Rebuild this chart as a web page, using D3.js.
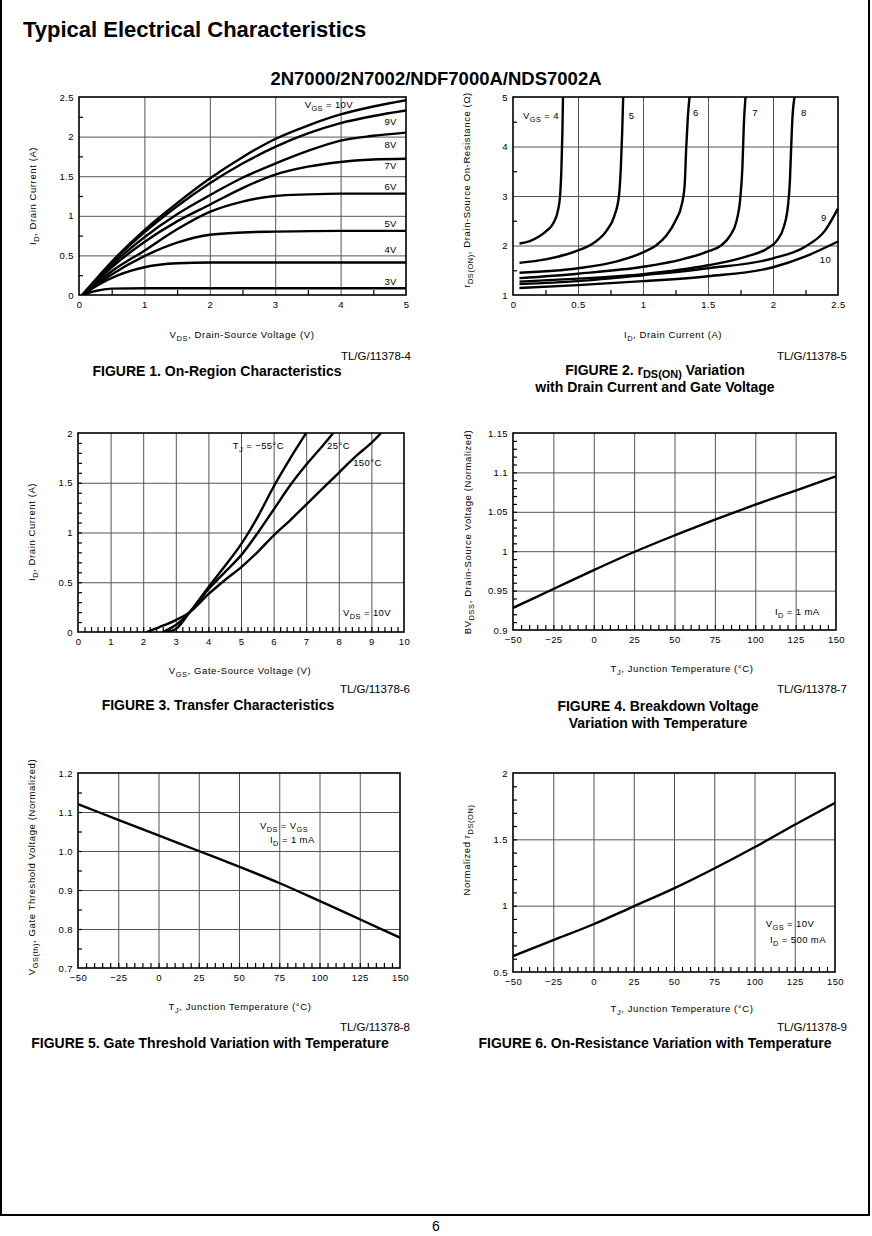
<!DOCTYPE html>
<html><head><meta charset="utf-8">
<script src="https://cdn.jsdelivr.net/npm/d3@7"></script>
<style>body{margin:0;background:#fff} svg{display:block}</style>
</head><body>
<svg id="c" width="872" height="1236"></svg>
<script>
// ---------------- DATA ----------------
// Figure 1: On-Region Characteristics  [VDS (V), ID (A)]
const f1Labels = ["V_{GS} = 10V","9V","8V","7V","6V","5V","4V","3V"];
const f1_10V = [[0.05,0],[0.5,0.42],[1,0.82],[1.5,1.16],[2,1.47],[2.5,1.74],[3,1.97],[3.5,2.14],[4,2.28],[4.5,2.38],[5,2.46]];
const f1_9V  = [[0.05,0],[0.5,0.41],[1,0.79],[1.5,1.12],[2,1.41],[2.5,1.66],[3,1.87],[3.5,2.04],[4,2.17],[4.5,2.26],[5,2.33]];
const f1_8V  = [[0.05,0],[0.5,0.38],[1,0.73],[1.5,1.02],[2,1.26],[2.5,1.48],[3,1.66],[3.5,1.82],[4,1.95],[4.5,2.01],[5,2.05]];
const f1_7V  = [[0.05,0],[0.5,0.35],[1,0.67],[1.5,0.93],[2,1.14],[2.5,1.35],[3,1.52],[3.5,1.62],[4,1.68],[4.5,1.71],[5,1.72]];
const f1_6V  = [[0.05,0],[0.5,0.3],[1,0.56],[1.5,0.83],[2,1.05],[2.5,1.18],[3,1.25],[3.5,1.27],[4,1.28],[5,1.28]];
const f1_5V  = [[0.05,0],[0.5,0.26],[1,0.49],[1.5,0.66],[2,0.76],[2.5,0.79],[3,0.80],[4,0.81],[5,0.81]];
const f1_4V  = [[0.05,0],[0.3,0.13],[0.6,0.25],[1,0.35],[1.5,0.40],[2,0.41],[5,0.41]];
const f1_3V  = [[0.05,0],[0.25,0.05],[0.5,0.08],[1,0.085],[5,0.085]];
const f1XTicks = [0,1,2,3,4,5];
const f1XTickLabels = ["0","1","2","3","4","5"];
const f1YTicks = [0,0.5,1,1.5,2,2.5];
const f1YTickLabels = ["0","0.5","1","1.5","2","2.5"];

// Figure 2: rDS(ON) vs ID  [ID (A), R (ohm)]
const f2Labels = ["V_{GS} = 4","5","6","7","8","9","10"];
const f2_4  = [[0.05,2.04],[0.13,2.09],[0.2,2.18],[0.26,2.3],[0.31,2.45],[0.345,2.7],[0.362,3.0],[0.373,3.6],[0.38,4.3],[0.385,5.05]];
const f2_5  = [[0.05,1.65],[0.25,1.72],[0.5,1.9],[0.62,2.05],[0.72,2.3],[0.78,2.6],[0.815,3.0],[0.83,3.6],[0.84,4.3],[0.848,5.05]];
const f2_6  = [[0.05,1.45],[0.5,1.54],[0.8,1.68],[1.0,1.86],[1.1,2.0],[1.18,2.2],[1.25,2.5],[1.3,2.85],[1.32,3.2],[1.333,4.0],[1.345,4.6],[1.36,5.05]];
const f2_7  = [[0.05,1.34],[0.5,1.43],[1.0,1.57],[1.3,1.72],[1.5,1.88],[1.6,2.0],[1.67,2.2],[1.72,2.5],[1.75,3.0],[1.765,3.6],[1.775,4.4],[1.79,5.05]];
const f2_8  = [[0.05,1.27],[0.5,1.33],[1.0,1.42],[1.5,1.6],[1.8,1.78],[1.95,1.93],[2.03,2.1],[2.08,2.35],[2.115,2.8],[2.13,3.3],[2.14,4.0],[2.15,4.6],[2.17,5.05]];
const f2_9  = [[0.05,1.22],[0.5,1.28],[1.0,1.4],[1.5,1.54],[2.0,1.74],[2.25,1.98],[2.4,2.3],[2.5,2.75]];
const f2_10 = [[0.05,1.14],[0.5,1.2],[1.0,1.28],[1.5,1.38],[2.0,1.56],[2.25,1.78],[2.5,2.08]];
const f2XTicks = [0,0.5,1,1.5,2,2.5];
const f2XTickLabels = ["0","0.5","1","1.5","2","2.5"];
const f2YTicks = [1,2,3,4,5];
const f2YTickLabels = ["1","2","3","4","5"];

// Figure 3: Transfer Characteristics  [VGS (V), ID (A)]
const f3Labels = ["T_{J} = −55°C","25°C","150°C","V_{DS} = 10V"];
const f3_m55 = [[2.7,0],[3.0,0.03],[3.43,0.2],[4.0,0.45],[4.5,0.66],[5.0,0.88],[5.5,1.15],[6.0,1.46],[6.5,1.74],[7.0,2.0]];
const f3_25  = [[2.6,0],[3.0,0.07],[3.43,0.2],[4.0,0.43],[4.5,0.6],[5.0,0.77],[5.5,0.99],[6.0,1.23],[6.5,1.47],[7.0,1.68],[7.5,1.87],[7.83,2.0]];
const f3_150 = [[2.1,0],[2.5,0.05],[3.0,0.12],[3.43,0.2],[4.0,0.38],[4.5,0.52],[5.0,0.65],[5.5,0.8],[6.0,0.97],[6.5,1.12],[7.0,1.28],[7.5,1.44],[8.0,1.6],[8.5,1.76],[9.0,1.9],[9.3,2.0]];
const f3XTicks = [0,1,2,3,4,5,6,7,8,9,10];
const f3XTickLabels = ["0","1","2","3","4","5","6","7","8","9","10"];
const f3YTicks = [0,0.5,1,1.5,2];
const f3YTickLabels = ["0","0.5","1","1.5","2"];

// Temperature axis shared by figures 4-6
const tempTicks = [-50,-25,0,25,50,75,100,125,150];
const tempTickLabels = ["−50","−25","0","25","50","75","100","125","150"];

// Figure 4: Breakdown voltage vs temperature  [TJ (°C), BVDSS norm]
const f4Labels = ["I_{D} = 1 mA"];
const f4_bv = [[-50,0.928],[-25,0.952],[0,0.976],[25,0.999],[50,1.02],[75,1.04],[100,1.059],[125,1.077],[150,1.095]];
const f4YTicks = [0.9,0.95,1,1.05,1.1,1.15];
const f4YTickLabels = ["0.9","0.95","1","1.05","1.1","1.15"];

// Figure 5: Gate threshold vs temperature
const f5Labels = ["V_{DS} = V_{GS}","I_{D} = 1 mA"];
const f5_vth = [[-50,1.12],[-25,1.08],[0,1.04],[25,1.0],[50,0.96],[75,0.918],[100,0.872],[125,0.825],[150,0.778]];
const f5YTicks = [0.7,0.8,0.9,1.0,1.1,1.2];
const f5YTickLabels = ["0.7","0.8","0.9","1.0","1.1","1.2"];

// Figure 6: On-resistance vs temperature
const f6Labels = ["V_{GS} = 10V","I_{D} = 500 mA"];
const f6_rds = [[-50,0.62],[-25,0.74],[0,0.86],[25,0.995],[50,1.13],[75,1.28],[100,1.44],[125,1.61],[150,1.775]];
const f6YTicks = [0.5,1,1.5,2];
const f6YTickLabels = ["0.5","1","1.5","2"];

// ---------------- DRAWING ----------------
const svg = d3.select("#c");
const SANS = "'Liberation Sans', Arial, Helvetica, sans-serif";
const PLOT = "'Liberation Sans', Arial, sans-serif";

function rich(sel, str, base, shiftK){
  const parts = str.split(/(_\{[^}]*\})/).filter(s => s.length);
  let shifted = false;
  const sh = base * (shiftK || 0.32);
  parts.forEach(p => {
    if (p.startsWith("_{")) {
      const t = sel.append("tspan").attr("font-size", base * 0.78).text(p.slice(2, -1));
      if (!shifted) { t.attr("dy", sh); shifted = true; }
    } else {
      const t = sel.append("tspan").text(p);
      if (shifted) { t.attr("dy", -sh); shifted = false; }
    }
  });
  return sel;
}

// frame
svg.append("line").attr("x1",1).attr("y1",0).attr("x2",1).attr("y2",1215).attr("stroke","#000").attr("stroke-width",2);
svg.append("line").attr("x1",869).attr("y1",0).attr("x2",869).attr("y2",1215).attr("stroke","#000").attr("stroke-width",2);
svg.append("line").attr("x1",0).attr("y1",1215).attr("x2",870).attr("y2",1215).attr("stroke","#000").attr("stroke-width",2);

svg.append("text").attr("x",23).attr("y",37).attr("font-family",SANS).attr("font-weight","bold").attr("font-size",22).text("Typical Electrical Characteristics");
svg.append("text").attr("x",436).attr("y",85).attr("text-anchor","middle").attr("font-family",SANS).attr("font-weight","bold").attr("font-size",18.5).text("2N7000/2N7002/NDF7000A/NDS7002A");
svg.append("text").attr("x",436).attr("y",1231).attr("text-anchor","middle").attr("font-family",SANS).attr("font-size",14).text("6");

let clipId = 0;
function chart(c){
  const g = svg.append("g");
  const x = d3.scaleLinear().domain(c.xd).range([c.l, c.r]);
  const y = d3.scaleLinear().domain(c.yd).range([c.b, c.t]);
  const H = c.b - c.t, W = c.r - c.l;

  // vertical grid
  g.append("g").attr("transform",`translate(0,${c.b})`)
    .call(d3.axisBottom(x).tickValues(c.xGrid).tickSize(-H).tickFormat(""))
    .call(s => { s.select(".domain").remove(); s.selectAll("line").attr("stroke","#555").attr("stroke-width",1); });
  // horizontal grid
  g.append("g").attr("transform",`translate(${c.l},0)`)
    .call(d3.axisLeft(y).tickValues(c.yGrid).tickSize(-W).tickFormat(""))
    .call(s => { s.select(".domain").remove(); s.selectAll("line").attr("stroke","#555").attr("stroke-width",1); });
  // minor ticks
  g.append("g").attr("transform",`translate(0,${c.b})`)
    .call(d3.axisBottom(x).tickValues(c.xMinor).tickSize(-5).tickFormat(""))
    .call(s => { s.select(".domain").remove(); s.selectAll("line").attr("stroke","#000").attr("stroke-width",1.2); });
  g.append("g").attr("transform",`translate(${c.l},0)`)
    .call(d3.axisLeft(y).tickValues(c.yMinor).tickSize(-4).tickFormat(""))
    .call(s => { s.select(".domain").remove(); s.selectAll("line").attr("stroke","#000").attr("stroke-width",1.2); });
  // tick labels
  g.append("g").attr("transform",`translate(0,${c.b})`)
    .call(d3.axisBottom(x).tickValues(c.xTicks).tickSize(0).tickPadding(6).tickFormat((d,i)=>c.xTickLabels[i]))
    .call(s => { s.select(".domain").remove(); s.selectAll("text").attr("font-family",PLOT).attr("font-size",9.5).attr("letter-spacing",0.4).attr("fill","#000"); });
  g.append("g").attr("transform",`translate(${c.l},0)`)
    .call(d3.axisLeft(y).tickValues(c.yTicks).tickSize(0).tickPadding(5).tickFormat((d,i)=>c.yTickLabels[i]))
    .call(s => { s.select(".domain").remove(); s.selectAll("text").attr("font-family",PLOT).attr("font-size",9.5).attr("letter-spacing",0.4).attr("fill","#000"); });

  // clip
  const id = "clip" + (clipId++);
  svg.append("clipPath").attr("id", id).append("rect").attr("x",c.l).attr("y",c.t).attr("width",W).attr("height",H);
  const line = d3.line().x(d => x(d[0])).y(d => y(d[1])).curve(d3.curveMonotoneX);
  g.append("g").attr("clip-path",`url(#${id})`).selectAll("path").data(c.series).join("path")
    .attr("d", line).attr("fill","none").attr("stroke","#000").attr("stroke-width",2.4).attr("stroke-linejoin","round");

  // frame
  g.append("rect").attr("x",c.l).attr("y",c.t).attr("width",W).attr("height",H)
    .attr("fill","none").attr("stroke","#000").attr("stroke-width",1.6);

  // annotations
  c.notes.forEach(n => {
    const t = g.append("text").attr("x", x(n.x)).attr("y", y(n.y)).attr("text-anchor", n.a || "start")
      .attr("font-family",PLOT).attr("font-size",9.5).attr("letter-spacing",0.4).attr("fill","#000");
    rich(t, n.text, 9.5);
  });

  // axis titles
  const xt = g.append("text").attr("x",c.xtX).attr("y",c.xtY).attr("text-anchor","middle")
    .attr("font-family",PLOT).attr("font-size",9.5).attr("letter-spacing",0.6);
  rich(xt, c.xTitle, 9.5);
  const yt = g.append("text").attr("transform",`translate(${c.ytX},${c.ytY}) rotate(-90)`).attr("text-anchor","middle")
    .attr("font-family",PLOT).attr("font-size",9.5).attr("letter-spacing",0.6);
  rich(yt, c.yTitle, 9.5);

  // reference number and caption
  g.append("text").attr("x",c.tlX).attr("y",c.tlY).attr("text-anchor","end").attr("font-family",SANS).attr("font-size",11.5).text(c.tl);
  c.caption.forEach((cap, i) => {
    const t = g.append("text").attr("x",c.capX).attr("y",c.capY + i*17).attr("text-anchor","middle")
      .attr("font-family",SANS).attr("font-weight","bold").attr("font-size",14);
    rich(t, cap, 14, 0.18);
  });
}

const range = (a,b,s) => d3.range(a, b + s/2, s);

chart({
  l:79, r:406, t:97, b:295, xd:[0,5], yd:[0,2.5],
  xGrid:[1,2,3,4], yGrid:[0.5,1,1.5,2], xMinor:range(0.5,4.5,1), yMinor:range(0.25,2.25,0.5),
  xTicks:f1XTicks, xTickLabels:f1XTickLabels, yTicks:f1YTicks, yTickLabels:f1YTickLabels,
  series:[f1_10V,f1_9V,f1_8V,f1_7V,f1_6V,f1_5V,f1_4V,f1_3V],
  notes:[
    {x:3.45,y:2.36,text:f1Labels[0]},
    {x:4.86,y:2.15,text:f1Labels[1],a:"end"},
    {x:4.86,y:1.86,text:f1Labels[2],a:"end"},
    {x:4.86,y:1.59,text:f1Labels[3],a:"end"},
    {x:4.86,y:1.33,text:f1Labels[4],a:"end"},
    {x:4.86,y:0.86,text:f1Labels[5],a:"end"},
    {x:4.86,y:0.53,text:f1Labels[6],a:"end"},
    {x:4.86,y:0.13,text:f1Labels[7],a:"end"}
  ],
  xTitle:"V_{DS}, Drain-Source Voltage (V)", xtX:242, xtY:338,
  yTitle:"I_{D}, Drain Current (A)", ytX:36, ytY:196,
  tl:"TL/G/11378-4", tlX:411, tlY:360,
  caption:["FIGURE 1. On-Region Characteristics"], capX:217, capY:376
});

chart({
  l:513, r:838, t:97, b:295, xd:[0,2.5], yd:[1,5],
  xGrid:[0.5,1,1.5,2], yGrid:[2,3,4], xMinor:range(0.25,2.25,0.5), yMinor:range(1.5,4.5,1),
  xTicks:f2XTicks, xTickLabels:f2XTickLabels, yTicks:f2YTicks, yTickLabels:f2YTickLabels,
  series:[f2_4,f2_5,f2_6,f2_7,f2_8,f2_9,f2_10],
  notes:[
    {x:0.077,y:4.55,text:f2Labels[0]},
    {x:0.89,y:4.55,text:f2Labels[1]},
    {x:1.385,y:4.61,text:f2Labels[2]},
    {x:1.84,y:4.61,text:f2Labels[3]},
    {x:2.215,y:4.61,text:f2Labels[4]},
    {x:2.37,y:2.49,text:f2Labels[5]},
    {x:2.36,y:1.65,text:f2Labels[6]}
  ],
  xTitle:"I_{D}, Drain Current (A)", xtX:673, xtY:338,
  yTitle:"r_{DS(ON)}, Drain-Source On-Resistance (Ω)", ytX:470, ytY:190,
  tl:"TL/G/11378-5", tlX:847, tlY:360,
  caption:["FIGURE 2. r_{DS(ON)} Variation","with Drain Current and Gate Voltage"], capX:655, capY:375
});

chart({
  l:78, r:404, t:433, b:632, xd:[0,10], yd:[0,2],
  xGrid:range(1,9,1), yGrid:[0.5,1,1.5], xMinor:range(0.2,9.8,0.2), yMinor:range(0.1,1.9,0.1),
  xTicks:f3XTicks, xTickLabels:f3XTickLabels, yTicks:f3YTicks, yTickLabels:f3YTickLabels,
  series:[f3_m55,f3_25,f3_150],
  notes:[
    {x:4.75,y:1.84,text:f3Labels[0]},
    {x:7.64,y:1.84,text:f3Labels[1]},
    {x:8.44,y:1.67,text:f3Labels[2]},
    {x:8.13,y:0.16,text:f3Labels[3]}
  ],
  xTitle:"V_{GS}, Gate-Source Voltage (V)", xtX:240, xtY:674,
  yTitle:"I_{D}, Drain Current (A)", ytX:35, ytY:532,
  tl:"TL/G/11378-6", tlX:410, tlY:693,
  caption:["FIGURE 3. Transfer Characteristics"], capX:218, capY:710
});

chart({
  l:513, r:836, t:433, b:630, xd:[-50,150], yd:[0.9,1.15],
  xGrid:range(-25,125,25), yGrid:[0.95,1,1.05,1.1], xMinor:range(-45,145,5), yMinor:range(0.91,1.14,0.01),
  xTicks:tempTicks, xTickLabels:tempTickLabels, yTicks:f4YTicks, yTickLabels:f4YTickLabels,
  series:[f4_bv],
  notes:[{x:112.2,y:0.919,text:f4Labels[0]}],
  xTitle:"T_{J}, Junction Temperature (°C)", xtX:682, xtY:672,
  yTitle:"BV_{DSS}, Drain-Source Voltage (Normalized)", ytX:471, ytY:532,
  tl:"TL/G/11378-7", tlX:847, tlY:693,
  caption:["FIGURE 4. Breakdown Voltage","Variation with Temperature"], capX:658, capY:711
});

chart({
  l:78, r:400, t:773, b:968, xd:[-50,150], yd:[0.7,1.2],
  xGrid:range(-25,125,25), yGrid:[0.8,0.9,1.0,1.1], xMinor:range(-45,145,5), yMinor:range(0.75,1.15,0.05),
  xTicks:tempTicks, xTickLabels:tempTickLabels, yTicks:f5YTicks, yTickLabels:f5YTickLabels,
  series:[f5_vth],
  notes:[{x:63,y:1.056,text:f5Labels[0]},{x:69.3,y:1.02,text:f5Labels[1]}],
  xTitle:"T_{J}, Junction Temperature (°C)", xtX:240, xtY:1010,
  yTitle:"V_{GS(th)}, Gate Threshold Voltage (Normalized)", ytX:35, ytY:867,
  tl:"TL/G/11378-8", tlX:410, tlY:1031,
  caption:["FIGURE 5. Gate Threshold Variation with Temperature"], capX:210, capY:1048
});

chart({
  l:513, r:835, t:773, b:972, xd:[-50,150], yd:[0.5,2],
  xGrid:range(-25,125,25), yGrid:[1,1.5], xMinor:range(-45,145,5), yMinor:range(0.6,1.9,0.1),
  xTicks:tempTicks, xTickLabels:tempTickLabels, yTicks:f6YTicks, yTickLabels:f6YTickLabels,
  series:[f6_rds],
  notes:[{x:107,y:0.84,text:f6Labels[0]},{x:109.6,y:0.72,text:f6Labels[1]}],
  xTitle:"T_{J}, Junction Temperature (°C)", xtX:682, xtY:1012,
  yTitle:"Normalized r_{DS(ON)}", ytX:470, ytY:850,
  tl:"TL/G/11378-9", tlX:847, tlY:1031,
  caption:["FIGURE 6. On-Resistance Variation with Temperature"], capX:655, capY:1048
});
</script>
</body></html>
